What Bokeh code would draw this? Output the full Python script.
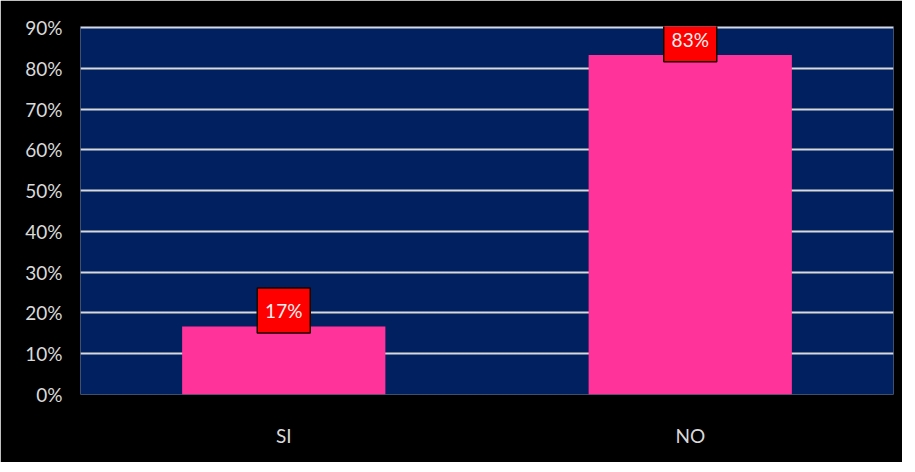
from bokeh.plotting import figure
from bokeh.models import ColumnDataSource, FixedTicker, NumeralTickFormatter, Range1d
from bokeh.core.properties import value
from bokeh.embed import file_html
from bokeh.resources import INLINE

categories = ["SI", "NO"]
shares = [0.167, 0.833]
labels = ["17%", "83%"]
y_ticks = [0.0, 0.1, 0.2, 0.3, 0.4, 0.5, 0.6, 0.7, 0.8, 0.9]

FONT = "Lato"
box_off = 0.039
src = ColumnDataSource(dict(cat=categories, v=shares, lab=labels,
                            ly=[s + box_off for s in shares]))

p = figure(x_range=categories, y_range=Range1d(0, 0.903), width=902, height=462,
           output_backend="svg", toolbar_location=None,
           min_border_left=80, min_border_right=9, min_border_top=26, min_border_bottom=68)
p.background_fill_color = "#002060"
p.border_fill_color = "#000000"
p.outline_line_color = None

p.vbar(x="cat", top="v", width=0.5, source=src, fill_color="#FF3399", line_color=None)

p.rect(x="cat", y="ly", width=53, height=45, width_units="screen", height_units="screen",
       source=src, fill_color="#FF0000", line_color="#1a0000", line_width=1.5)
p.text(x="cat", y="ly", text="lab", source=src, text_align="center", text_baseline="middle",
       text_color="#F2F2F2", text_font=value(FONT), text_font_size="19px")

p.yaxis.ticker = FixedTicker(ticks=y_ticks)
p.yaxis.formatter = NumeralTickFormatter(format="0%")
p.ygrid.ticker = FixedTicker(ticks=y_ticks[1:])
p.ygrid.grid_line_color = "#D9D9D9"
p.ygrid.grid_line_width = 2
p.xgrid.grid_line_color = None

for ax in (p.xaxis, p.yaxis):
    ax.axis_line_color = None
    ax.major_tick_line_color = None
    ax.minor_tick_line_color = None
    ax.major_label_text_color = "#D9D9D9"
    ax.major_label_text_font = FONT
    ax.major_label_text_font_size = "19px"
p.yaxis.major_label_standoff = 12
p.xaxis.major_label_standoff = 23

open("out.html", "w").write(file_html(p, INLINE))
